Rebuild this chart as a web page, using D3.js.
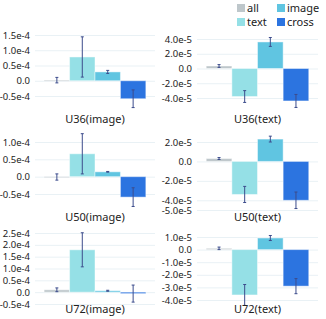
<!DOCTYPE html>
<html>
<head>
<meta charset="utf-8">
<script src="https://cdn.jsdelivr.net/npm/d3@7"></script>
<style>
  body { margin: 0; background: #fff; }
  svg { display: block; font-family: "Noto Sans", sans-serif; }
</style>
</head>
<body>
<div id="chart"></div>
<script>
// series + colours
const seriesNames = ['all', 'text', 'image', 'cross'];
const seriesColors = ['#bec7cb', '#95e0e6', '#60c5e1', '#2c74e0'];

// panels, row by row (left: image, right: text)
const panelTitles = ['U36(image)', 'U36(text)', 'U50(image)', 'U50(text)', 'U72(image)', 'U72(text)'];

// bar heights per panel, order: all, text, image, cross
const means = [
    [0.02e-4, 0.78e-4, 0.29e-4, -0.59e-4],
    [0.34e-5, -3.8e-5, 3.6e-5, -4.4e-5],
    [-0.01e-4, 0.66e-4, 0.14e-4, -0.59e-4],
    [0.3e-5, -3.4e-5, 2.3e-5, -4.0e-5],
    [0.1e-4, 1.79e-4, 0.06e-4, -0.06e-4],
    [0.1e-5, -3.6e-5, 0.92e-5, -2.9e-5]
];
// half length of error bars
const errors = [
    [0.09e-4, 0.66e-4, 0.05e-4, 0.29e-4],
    [0.19e-5, 0.8e-5, 0.6e-5, 0.88e-5],
    [0.09e-4, 0.58e-4, 0.01e-4, 0.27e-4],
    [0.1e-5, 0.83e-5, 0.3e-5, 0.85e-5],
    [0.08e-4, 0.72e-4, 0.02e-4, 0.36e-4],
    [0.1e-5, 0.83e-5, 0.2e-5, 0.6e-5]
];

// y ticks per panel and their labels
const tickValues = [
    [-0.5e-4, 0, 0.5e-4, 1.0e-4, 1.5e-4],
    [-4e-5, -2e-5, 0, 2e-5, 4e-5],
    [-0.5e-4, 0, 0.5e-4, 1.0e-4],
    [-5e-5, -4e-5, -2e-5, 0, 2e-5],
    [-0.5e-4, 0, 0.5e-4, 1.0e-4, 1.5e-4, 2.0e-4, 2.5e-4],
    [-4e-5, -3e-5, -2e-5, -1e-5, 0, 1e-5]
];
const tickLabels = [
    ['-0.5e-4', '0.0', '0.5e-4', '1.0e-4', '1.5e-4'],
    ['-4.0e-5', '-2.0e-5', '0.0', '2.0e-5', '4.0e-5'],
    ['-0.5e-4', '0.0', '0.5e-4', '1.0e-4'],
    ['-5.0e-5', '-4.0e-5', '-2.0e-5', '0.0', '2.0e-5'],
    ['-0.5e-4', '0.0', '0.5e-4', '1.0e-4', '1.5e-4', '2.0e-4', '2.5e-4'],
    ['-4.0e-5', '-3.0e-5', '-2.0e-5', '-1.0e-5', '0.0', '1.0e-5']
];

// layout: pixel span of lowest / highest tick in each panel
const W = 326, H = 319;
const colX = [[35, 155], [197, 318]];
const tickSpan = [[96, 35], [98, 39], [194, 142], [210, 142], [304, 233], [300, 237]];
const titleY = [119, 119, 217, 217, 309, 309];

const svg = d3.select('#chart').append('svg')
    .attr('width', W)
    .attr('height', H);

panelTitles.forEach((title, p) => {
    const [x0, x1] = colX[p % 2];
    const ticks = tickValues[p];

    const x = d3.scaleBand()
        .domain(seriesNames)
        .range([x0, x1])
        .paddingInner(0)
        .paddingOuter(0.36);

    const y = d3.scaleLinear()
        .domain([ticks[0], ticks[ticks.length - 1]])
        .range(tickSpan[p]);

    const g = svg.append('g');

    // grid lines
    g.append('g')
        .attr('transform', `translate(${x0},0)`)
        .call(d3.axisLeft(y).tickValues(ticks).tickSize(-(x1 - x0)).tickFormat(''))
        .call(s => s.select('.domain').remove())
        .selectAll('line')
        .attr('stroke', '#e9f1f5');

    // tick labels
    g.append('g')
        .attr('transform', `translate(${x0 - 2},0)`)
        .call(d3.axisLeft(y).tickValues(ticks).tickSize(0).tickFormat((d, i) => tickLabels[p][i]))
        .call(s => s.select('.domain').remove())
        .selectAll('text')
        .attr('fill', '#222')
        .style('font-size', '9.5px')
        .style('font-family', '"Noto Sans", sans-serif');

    const rows = seriesNames.map((s, i) => ({ s, i, v: means[p][i], e: errors[p][i] }));

    // bars
    g.selectAll('.bar')
        .data(rows)
        .enter()
        .append('rect')
        .attr('x', d => x(d.s))
        .attr('y', d => Math.min(y(d.v), y(0)))
        .attr('width', x.bandwidth())
        .attr('height', d => Math.max(1, Math.abs(y(d.v) - y(0))))
        .attr('fill', d => seriesColors[d.i])
        .attr('stroke', 'rgba(255,255,255,0.45)')
        .attr('stroke-width', 1);

    // error bars
    const eb = g.selectAll('.err')
        .data(rows)
        .enter()
        .append('g')
        .attr('stroke', '#3c4c8c')
        .attr('stroke-width', 1);

    eb.append('line')
        .attr('x1', d => x(d.s) + x.bandwidth() / 2)
        .attr('x2', d => x(d.s) + x.bandwidth() / 2)
        .attr('y1', d => y(d.v - d.e))
        .attr('y2', d => y(d.v + d.e));

    [-1, 1].forEach(sign => {
        eb.append('line')
            .attr('x1', d => x(d.s) + x.bandwidth() / 2 - 1.5)
            .attr('x2', d => x(d.s) + x.bandwidth() / 2 + 1.5)
            .attr('y1', d => y(d.v + sign * d.e))
            .attr('y2', d => y(d.v + sign * d.e));
    });

    // panel title
    g.append('text')
        .attr('x', (x0 + x1) / 2)
        .attr('y', titleY[p])
        .attr('dy', '0.35em')
        .attr('text-anchor', 'middle')
        .attr('fill', '#222')
        .style('font-size', '11px')
        .text(title);
});

// legend, 2 x 2, filled column by column
const legendX = [237, 277];
const legendY = [8, 22];
const legend = svg.append('g');
seriesNames.forEach((s, i) => {
    const lx = legendX[Math.floor(i / 2)];
    const ly = legendY[i % 2];
    legend.append('rect')
        .attr('x', lx)
        .attr('y', ly - 4)
        .attr('width', 8)
        .attr('height', 8)
        .attr('fill', seriesColors[i]);
    legend.append('text')
        .attr('x', lx + 10)
        .attr('y', ly)
        .attr('dy', '0.35em')
        .attr('fill', '#222')
        .style('font-size', '11px')
        .text(s);
});
</script>
</body>
</html>
